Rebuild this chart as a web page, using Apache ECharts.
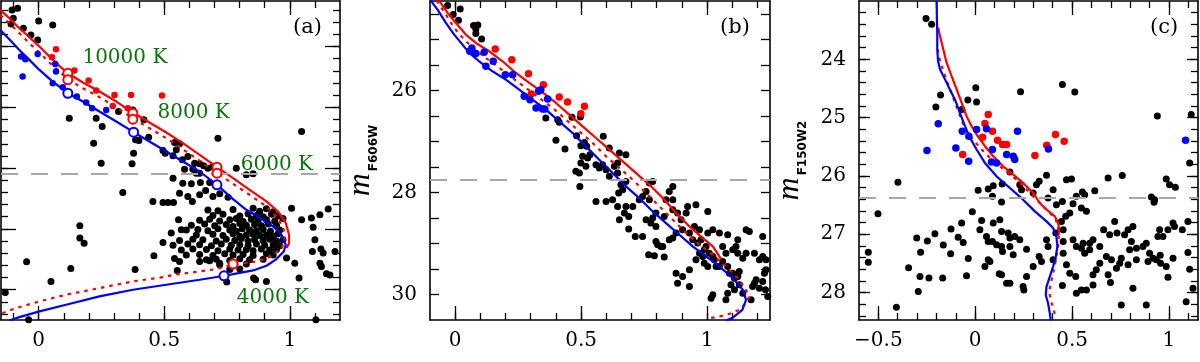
<!DOCTYPE html>
<html><head><meta charset="utf-8">
<script src="https://cdn.jsdelivr.net/npm/echarts@6/dist/echarts.min.js"></script>
<style>html,body{margin:0;padding:0;background:#fff}#c{width:1200px;height:362px}</style>
</head><body><div id="c"></div>
<script>
// ---------------- Panel (a) ----------------
const aXTicksMinor = [-0.1,0,0.1,0.2,0.3,0.4,0.5,0.6,0.7,0.8,0.9,1,1.1];
const aXTicksMajor = [0,0.5,1];
const aXLabels = [0,0.5,1];
const aYTicksMinor = [0.4,0.6,0.8,1,1.2,1.4,1.6,1.8,2,2.2,2.4,2.6,2.8,3,3.2,3.4,3.6,3.8,4,4.2,4.4,4.6,4.8,5,5.2,5.4];
const aYTicksMajor = [1,2,3,4,5];
const aYLabels = [];

const aRedSolid = [[-0.153,0.397],[-0.117,0.534],[-0.077,0.698],[-0.037,0.846],[0.003,1.000],[0.043,1.164],[0.082,1.318],[0.116,1.439],[0.176,1.592],[0.242,1.740],[0.309,1.905],[0.375,2.086],[0.441,2.250],[0.508,2.414],[0.574,2.590],[0.641,2.782],[0.710,2.985],[0.774,3.166],[0.840,3.357],[0.907,3.549],[0.953,3.714],[0.984,3.906],[0.997,4.098],[0.997,4.235],[0.987,4.317]];
const aRedDotted = [[-0.153,0.479],[-0.117,0.616],[-0.077,0.781],[-0.037,0.945],[0.003,1.099],[0.043,1.263],[0.082,1.411],[0.116,1.537],[0.176,1.685],[0.242,1.833],[0.309,1.998],[0.375,2.184],[0.441,2.343],[0.508,2.508],[0.574,2.689],[0.641,2.880],[0.710,3.083],[0.774,3.259],[0.840,3.440],[0.907,3.632],[0.953,3.823],[0.976,4.015],[0.980,4.180],[0.967,4.317],[0.927,4.454],[0.867,4.536],[0.820,4.564],[0.774,4.591],[0.707,4.662],[0.641,4.701],[0.541,4.755],[0.495,4.794],[0.375,4.865],[0.242,4.975],[0.109,5.084],[0.003,5.194],[-0.090,5.304],[-0.150,5.397]];
const aBlue = [[-0.153,0.726],[-0.117,0.879],[-0.077,1.055],[-0.037,1.219],[0.003,1.384],[0.056,1.576],[0.116,1.768],[0.176,1.905],[0.242,2.069],[0.309,2.234],[0.378,2.409],[0.441,2.563],[0.508,2.727],[0.574,2.891],[0.641,3.056],[0.710,3.275],[0.774,3.511],[0.827,3.686],[0.894,3.851],[0.934,3.961],[0.967,4.098],[0.984,4.262],[0.976,4.372],[0.947,4.498],[0.907,4.607],[0.854,4.684],[0.774,4.745],[0.741,4.772],[0.641,4.838],[0.508,4.920],[0.375,5.002],[0.242,5.112],[0.109,5.249],[0.003,5.359],[-0.077,5.452],[-0.117,5.507]];
const aRedCircles = [[0.116,1.439],[0.116,1.548],[0.375,2.096],[0.375,2.195],[0.710,2.985],[0.710,3.083],[0.774,4.580]];
const aBlueCircles = [[0.116,1.768],[0.378,2.409],[0.710,3.275],[0.738,4.772]];
const aTempLabels = ['10000 K','8000 K','6000 K','4000 K'];
const aTempPos = [[0.174,1.186],[0.473,2.09],[0.805,2.946],[0.789,5.133]];
const aRedPts = [[0.069,1.044],[0.053,1.175],[0.142,1.395],[0.199,1.559],[0.229,1.724],[0.302,1.795],[0.368,1.795],[0.491,1.806],[0.295,1.976],[0.355,2.014]];
const aBluePts = [[-0.070,1.164],[-0.053,1.208],[-0.004,1.121],[-0.064,1.493],[0.066,1.285],[0.069,1.411],[0.056,1.603],[0.096,1.669],[0.152,1.822],[0.189,1.921],[0.213,2.014],[0.269,2.042]];
const aBlackPts = [
[-0.106,0.397],[-0.084,0.370],[-0.101,0.534],[-0.110,0.627],[-0.061,0.698],[0.000,0.578],[0.056,0.644],[-0.031,0.808],[-0.004,0.890],
[0.122,2.179],[0.229,2.179],[0.253,2.316],[0.219,2.590],[0.249,2.919],[0.318,2.069],[0.375,2.042],[0.378,2.754],[0.372,2.930],[0.386,2.535],[0.399,2.546],[0.419,2.206],[0.438,2.491],
[0.495,2.711],[0.504,2.754],[0.535,2.798],[0.541,2.579],[0.561,2.601],[0.548,2.700],[0.572,2.864],[0.581,3.018],[0.621,2.919],[0.614,3.018],[0.594,2.809],[0.535,3.166],[0.714,2.508],[1.047,2.398],
[0.641,2.930],[0.657,2.963],[0.674,3.001],[0.628,3.083],[0.694,2.974],[0.641,3.083],
[0.787,3.001],[0.827,3.111],[0.854,3.094],
[0.574,3.248],[0.608,3.259],[0.644,3.237],[0.681,3.237],[0.335,3.401],
[0.455,3.549],[0.495,3.566],[0.515,3.566],[0.537,3.566],
[0.561,3.412],[0.594,3.467],[0.612,3.549],[0.641,3.440],[0.665,3.368],[0.694,3.467],[0.721,3.423],[0.754,3.478],
[0.164,3.950],[0.164,4.152],[0.181,4.235],[-0.048,4.542],[0.128,4.651],[0.384,4.668],[0.049,4.865],[-0.133,5.046],[-0.040,5.496],[1.104,5.496],
[0.459,4.443],[0.495,4.224],[0.528,4.070],[0.557,3.851],[0.568,4.015],[0.541,4.487],[0.561,4.536],[0.552,4.684],
[0.641,4.536],[0.681,4.525],[0.721,4.564],[0.749,4.876],[0.856,4.810],[0.864,4.838],[0.907,4.865],
[1.007,3.659],[1.047,3.851],[1.086,3.823],[1.120,3.769],[1.153,3.675],[1.093,3.972],
[1.100,4.180],[1.090,4.372],[1.124,4.333],[1.133,4.399],[1.120,4.564],[1.126,4.618],[1.146,4.739],[1.160,4.761],[1.180,4.372],
[0.987,4.481],[1.020,4.564],[1.037,4.810],
[0.674,3.69],[0.714,3.70],[0.774,3.68],[0.854,3.66],[0.880,3.71],[0.907,3.67],[0.934,3.72],
[0.694,3.78],[0.734,3.76],[0.801,3.79],[0.834,3.75],[0.867,3.78],[0.894,3.80],[0.927,3.76],[0.953,3.79],
[0.641,3.86],[0.681,3.84],[0.721,3.87],[0.761,3.85],[0.787,3.83],[0.814,3.88],[0.847,3.84],[0.874,3.86],[0.907,3.85],[0.940,3.87],[0.973,3.83],
[0.608,3.94],[0.661,3.92],[0.701,3.95],[0.747,3.93],[0.774,3.96],[0.801,3.91],[0.827,3.94],[0.860,3.93],[0.887,3.95],[0.914,3.92],[0.947,3.94],
[0.588,4.02],[0.634,4.01],[0.674,4.03],[0.714,4.00],[0.761,4.02],[0.787,4.04],[0.811,4.00],[0.840,4.02],[0.867,4.03],[0.894,4.01],[0.923,4.04],[0.960,4.02],
[0.628,4.10],[0.694,4.09],[0.734,4.11],[0.774,4.08],[0.801,4.12],[0.827,4.10],[0.854,4.09],[0.880,4.11],[0.907,4.10],[0.934,4.12],[0.953,4.08],
[0.561,4.19],[0.614,4.17],[0.654,4.18],[0.707,4.20],[0.747,4.17],[0.781,4.19],[0.807,4.16],[0.834,4.20],[0.860,4.18],[0.894,4.19],[0.920,4.17],[0.947,4.20],[0.973,4.18],
[0.535,4.27],[0.594,4.25],[0.641,4.26],[0.688,4.28],[0.727,4.25],[0.767,4.27],[0.801,4.26],[0.834,4.28],[0.867,4.25],[0.900,4.27],[0.934,4.26],[0.960,4.28],
[0.568,4.35],[0.614,4.33],[0.668,4.34],[0.714,4.36],[0.761,4.33],[0.794,4.35],[0.827,4.34],[0.854,4.36],[0.887,4.33],[0.920,4.35],[0.947,4.34],
[0.588,4.43],[0.641,4.42],[0.694,4.44],[0.741,4.41],[0.774,4.43],[0.814,4.42],[0.854,4.44],[0.907,4.41],[0.934,4.43],
[0.668,4.51],[0.707,4.50],[0.761,4.52],[0.801,4.49],[0.840,4.51],[0.894,4.50],
[0.721,4.59],[0.827,4.58],[0.761,4.67],[0.801,4.66]
];
const aDash = 3.094;

// ---------------- Panel (b) ----------------
const bXTicksMinor = [0,0.1,0.2,0.3,0.4,0.5,0.6,0.7,0.8,0.9,1,1.1,1.2];
const bXTicksMajor = [0,0.5,1];
const bXLabels = [0,0.5,1];
const bYTicksMinor = [24.5,25,25.5,26,26.5,27,27.5,28,28.5,29,29.5,30];
const bYTicksMajor = [];
const bYLabels = [26,28,30];

const bBlue = [[-0.097,24.242],[-0.070,24.418],[-0.037,24.680],[-0.004,24.908],[0.029,25.105],[0.056,25.268],[0.095,25.431],[0.148,25.627],[0.201,25.791],[0.254,25.987],[0.307,26.183],[0.360,26.379],[0.413,26.608],[0.466,26.837],[0.519,27.098],[0.572,27.359],[0.625,27.621],[0.678,27.882],[0.731,28.111],[0.784,28.373],[0.837,28.601],[0.890,28.830],[0.943,29.059],[0.996,29.255],[1.049,29.451],[1.102,29.680],[1.142,29.908],[1.155,30.105],[1.140,30.301],[1.101,30.458],[1.075,30.510]];
const bRedSolid = [[-0.064,24.242],[-0.030,24.484],[0.003,24.680],[0.042,24.908],[0.082,25.072],[0.135,25.235],[0.188,25.431],[0.241,25.660],[0.294,25.856],[0.347,26.039],[0.400,26.248],[0.453,26.477],[0.506,26.706],[0.559,26.935],[0.612,27.163],[0.665,27.392],[0.718,27.621],[0.771,27.850],[0.824,28.111],[0.877,28.405],[0.930,28.667],[0.983,28.895],[1.023,29.059],[1.056,29.307]];
const bRedDotted = [[-0.074,24.242],[-0.037,24.516],[-0.004,24.778],[0.036,25.007],[0.075,25.190],[0.122,25.366],[0.175,25.562],[0.228,25.758],[0.281,25.954],[0.334,26.150],[0.387,26.346],[0.440,26.575],[0.493,26.804],[0.546,27.033],[0.599,27.294],[0.652,27.523],[0.705,27.752],[0.758,28.013],[0.811,28.275],[0.864,28.536],[0.917,28.797],[0.970,29.026],[1.023,29.222],[1.075,29.451],[1.128,29.712],[1.162,29.974],[1.168,30.039],[1.148,30.203],[1.128,30.301],[1.089,30.379],[1.049,30.431],[0.996,30.477]];
const bRedPts = [[0.159,25.190],[0.225,25.399],[0.291,25.673],[0.350,25.889],[0.413,26.131],[0.446,26.229],[0.513,26.314],[0.499,26.458],[0.302,26.072]];
const bBluePts = [[0.066,25.170],[0.058,25.235],[0.082,25.281],[0.115,25.255],[0.122,25.529],[0.151,25.431],[0.199,25.693],[0.228,25.693],[0.274,26.118],[0.297,26.183],[0.331,26.020],[0.340,25.987],[0.367,26.170],[0.321,26.346],[0.347,26.366],[0.356,26.366]];
const bBlackPts = [
[-0.030,24.340],[0.020,24.405],[-0.008,24.516],[0.013,24.627],[0.073,24.732],[0.082,24.797],[0.090,24.719],[0.082,24.889],[0.105,24.993],
[0.360,26.542],[0.407,26.575],[0.413,26.627],[0.464,26.529],[0.497,26.523],
[0.400,26.980],[0.436,27.150],[0.482,26.889],[0.499,27.085],[0.513,27.020],[0.522,27.098],[0.506,27.294],[0.526,27.327],[0.535,27.261],[0.499,27.425],[0.519,27.490],[0.479,27.588],[0.493,27.621],[0.495,27.882],
[0.588,26.902],[0.612,27.131],[0.652,27.229],[0.678,27.261],[0.645,27.425],[0.632,27.490],[0.645,27.621],[0.612,27.686],[0.599,27.556],[0.572,27.523],[0.585,27.458],[0.559,27.458],
[0.658,27.850],[0.678,27.784],[0.665,27.948],[0.649,28.013],[0.625,28.144],[0.599,28.176],[0.559,28.176],[0.645,28.275],[0.678,28.275],[0.705,28.275],[0.689,28.471],[0.672,28.405],[0.652,28.536],[0.689,28.719],[0.715,28.863],[0.744,28.863],
[0.771,27.817],[0.784,27.784],[0.758,27.980],[0.744,28.078],[0.731,28.144],[0.771,28.144],[0.797,28.405],[0.784,28.503],[0.758,28.536],[0.777,28.601],[0.797,28.667],[0.830,28.471],[0.864,27.882],[0.850,27.980],[0.837,28.144],[0.864,28.144],[0.864,28.340],[0.883,28.405],[0.897,28.536],[0.917,28.405],[0.923,28.275],[0.956,28.242],[1.003,28.373],
[0.768,29.222],[0.791,29.242],[0.830,29.268],[0.804,29.026],[0.817,29.059],[0.797,28.961],[0.824,29.059],[0.850,28.928],[0.864,28.895],[0.877,28.797],[0.903,28.732],[0.930,28.797],[0.950,28.667],[0.970,28.732],[0.943,28.928],[0.963,28.993],[0.976,28.928],[1.003,28.797],[1.023,28.732],[1.049,28.797],[1.082,28.830],[1.122,28.928],[1.155,28.732],[1.168,28.765],[1.221,28.863],
[0.877,29.582],[0.883,29.778],[0.903,29.647],[0.930,29.843],[0.930,29.516],[0.956,29.320],[0.970,29.190],[0.983,29.255],[0.989,29.124],[0.996,29.059],[1.009,29.190],[1.023,29.255],[1.029,29.320],[0.989,29.386],[1.003,29.451],[1.036,29.451],[1.049,29.451],[1.062,29.353],[1.082,29.451],[1.089,29.582],[1.102,29.582],[1.109,29.680],[1.122,29.647],[1.128,29.549],[1.075,29.190],[1.062,29.059],[1.102,29.124],[1.115,29.059],[1.122,29.190],[1.142,29.288],[1.155,29.190],[1.188,29.190],[1.221,29.255],[1.234,29.320],[1.208,29.320],
[1.023,30.007],[1.016,30.072],[1.082,29.974],[1.075,30.105],[1.095,29.810],[1.109,29.908],[1.128,29.810],[1.142,29.974],[1.175,30.105],[1.181,29.843],[1.188,29.778],[1.195,29.712],[1.208,29.876],[1.221,29.745],[1.228,29.582],[1.234,29.516],[1.232,29.908],[1.241,30.039]
];
const bDash = 27.75;

// ---------------- Panel (c) ----------------
const cXTicksMinor = [-0.5,-0.4,-0.3,-0.2,-0.1,0,0.1,0.2,0.3,0.4,0.5,0.6,0.7,0.8,0.9,1,1.1];
const cXTicksMajor = [-0.5,0,0.5,1];
const cXLabels = [-0.5,0,0.5,1];
const cYTicksMinor = [23.2,23.4,23.6,23.8,24,24.2,24.4,24.6,24.8,25,25.2,25.4,25.6,25.8,26,26.2,26.4,26.6,26.8,27,27.2,27.4,27.6,27.8,28,28.2,28.4];
const cYTicksMajor = [24,25,26,27,28];
const cYLabels = [24,25,26,27,28];

const cBlue = [[-0.199,23.0],[-0.198,23.312],[-0.196,23.542],[-0.196,23.828],[-0.192,24.029],[-0.182,24.172],[-0.156,24.344],[-0.131,24.516],[-0.105,24.688],[-0.079,24.917],[-0.053,25.146],[-0.027,25.347],[0.007,25.547],[0.050,25.777],[0.110,26.006],[0.179,26.206],[0.247,26.407],[0.308,26.607],[0.368,26.779],[0.402,26.894],[0.419,27.037],[0.424,27.209],[0.416,27.381],[0.402,27.553],[0.385,27.725],[0.368,27.897],[0.364,28.040],[0.376,28.183],[0.385,28.355],[0.390,28.481]];
const cRedSolid = [[-0.191,23.456],[-0.182,23.599],[-0.165,23.828],[-0.148,24.057],[-0.122,24.287],[-0.096,24.516],[-0.070,24.745],[-0.045,24.974],[-0.019,25.146],[0.007,25.289],[0.050,25.490],[0.093,25.662],[0.144,25.834],[0.196,25.977],[0.247,26.120],[0.299,26.292],[0.333,26.464],[0.368,26.579],[0.411,26.693],[0.428,26.808],[0.433,26.923],[0.430,27.009]];
const cRedDotted = [[-0.194,23.828],[-0.186,23.971],[-0.168,24.172],[-0.143,24.401],[-0.117,24.630],[-0.091,24.860],[-0.065,25.089],[-0.040,25.261],[-0.005,25.404],[0.033,25.547],[0.076,25.691],[0.127,25.834],[0.170,25.948],[0.222,26.092],[0.265,26.235],[0.308,26.378],[0.342,26.493],[0.376,26.607],[0.416,26.739],[0.433,26.98],[0.428,27.21],[0.416,27.44],[0.402,27.67],[0.390,27.84],[0.381,27.983],[0.388,28.097],[0.399,28.241],[0.411,28.367]];
const cRedPts = [[0.067,24.946],[0.050,25.100],[0.089,25.232],[0.038,25.335],[0.115,25.387],[0.141,25.461],[0.162,25.461],[-0.065,25.633],[0.308,25.650],[0.414,25.289],[0.369,25.473],[0.459,25.404]];
const cBluePts = [[-0.191,25.106],[-0.249,25.564],[-0.067,25.232],[-0.033,25.318],[0.007,25.203],[0.058,25.192],[-0.100,25.519],[-0.034,25.748],[0.089,25.547],[0.084,25.759],[0.110,25.777],[0.162,25.633],[0.196,25.662],[0.204,25.719],[0.218,25.232],[0.378,25.536],[1.086,25.387]];
const cBlackPts = [
[-0.254,23.301],[-0.225,23.398],[0.003,24.487],[-0.038,24.699],[0.007,24.734],[-0.179,24.613],[-0.203,24.819],[-0.069,24.860],[0.234,24.556],[0.450,24.430],[0.514,24.562],[0.940,24.974],[1.115,24.946],[1.107,25.777],
[-0.399,26.109],[-0.502,26.648],[-0.552,27.307],[-0.552,27.479],[-0.344,27.576],[-0.302,27.066],[-0.282,27.307],[-0.247,27.117],[-0.208,26.991],[-0.165,27.186],[-0.125,26.911],[-0.127,27.335],[-0.088,27.049],[-0.062,27.140],[-0.070,26.808],[-0.036,27.415],[-0.285,27.725],[-0.239,27.748],[-0.168,27.748],[-0.294,27.983],[-0.407,28.252],[-0.045,27.713],
[-0.015,26.613],[0.024,26.923],[0.033,26.762],[0.067,27.123],[0.058,27.037],[0.089,27.123],[0.110,27.181],[0.136,27.209],[0.141,27.295],[0.067,27.438],[0.050,27.553],[0.076,27.467],[0.093,26.808],[0.127,26.751],[0.136,26.951],[0.170,26.980],[0.179,27.066],[0.204,27.037],[0.230,27.095],[0.179,27.209],[0.196,27.352],[0.265,27.255],[0.124,27.679],[0.136,27.696],[0.162,27.840],[0.179,27.840],[0.247,27.897],[0.265,27.725],[0.251,27.954],[0.299,27.553],[0.330,27.381],[0.342,27.467],[0.368,27.095],[0.376,27.209],[0.402,27.438],[0.416,26.980],[0.454,27.123],[0.454,27.324],[0.471,27.524],[0.450,27.880],[0.454,26.923],
[0.015,26.246],[0.067,26.223],[0.089,26.350],[0.093,26.166],[0.139,26.138],[0.136,26.447],[0.179,25.931],[0.230,26.149],[0.239,26.235],[0.299,26.292],[0.316,26.149],[0.330,26.092],[0.368,25.989],[0.376,26.378],[0.402,26.235],[0.419,26.493],[0.450,26.436],[0.467,26.693],[0.488,26.636],[0.445,26.779],[0.505,26.476],[0.522,26.350],[0.565,26.321],[0.617,26.252],[0.686,26.034],[0.759,25.994],[0.986,26.052],[1.003,26.149],[1.033,26.195],[0.909,26.361],[0.926,26.407],[0.923,26.453],[0.548,26.550],[0.574,26.607],[0.553,26.275],[0.471,26.063],[0.497,26.052],
[0.505,27.095],[0.522,27.209],[0.557,27.152],[0.591,27.152],[0.608,27.095],[0.643,27.209],[0.663,26.923],[0.694,27.009],[0.720,26.779],[0.732,26.980],[0.771,27.009],[0.789,26.923],[0.814,26.865],[0.806,27.123],[0.797,27.266],[0.832,27.238],[0.866,27.209],[0.883,27.152],[0.900,27.324],[0.918,27.410],[0.935,27.438],[0.943,27.037],[0.952,26.923],[0.969,27.037],[0.995,26.923],[1.021,26.808],[1.029,26.865],[1.069,26.923],[1.098,26.779],[1.098,27.312],[1.107,27.599],[1.124,27.926],[1.089,28.155],[0.754,28.212],[0.883,28.212],
[0.488,27.668],[0.519,27.725],[0.522,28.011],[0.548,27.954],[0.574,27.954],[0.608,27.696],[0.625,27.610],[0.643,27.496],[0.677,27.381],[0.703,27.438],[0.729,27.582],[0.746,27.496],[0.754,27.410],[0.789,27.524],[0.832,27.438],[0.892,27.467],[0.955,27.358],[0.957,27.496],[0.986,27.553],[1.021,27.410],[0.995,27.736],[0.814,27.926],[0.698,27.828],[0.686,27.696],[0.608,27.868],[0.548,27.238],[0.565,27.324],[0.591,27.266]
];
const cDash = 26.38;

// ---------------- build ----------------
const SERIF = 'DejaVu Serif';
const RED = '#ff0000', BLUE = '#0000ff';
const fmt = v => (v < 0 ? '\u2212' + (-v) : String(v));

const panels = [
  {grid:{left:1, top:1, width:339, height:319},
   x:{min:-0.15, max:1.2, minor:aXTicksMinor, major:aXTicksMajor, labels:aXLabels, minLen:7, majLen:14},
   y:{min:0.25, max:5.5, minor:aYTicksMinor, major:aYTicksMajor, labels:aYLabels, minLen:7, majLen:15, name:null}},
  {grid:{left:430, top:1, width:340, height:319},
   x:{min:-0.1, max:1.25, minor:bXTicksMinor, major:bXTicksMajor, labels:bXLabels, minLen:7, majLen:14},
   y:{min:24.25, max:30.5, minor:bYTicksMinor, major:bYTicksMajor, labels:bYLabels, minLen:9, majLen:9, name:'{m|m}{s|F606W}'}},
  {grid:{left:859, top:1, width:339, height:319},
   x:{min:-0.6, max:1.15, minor:cXTicksMinor, major:cXTicksMajor, labels:cXLabels, minLen:7, majLen:14},
   y:{min:23, max:28.47, minor:cYTicksMinor, major:cYTicksMajor, labels:cYLabels, minLen:7, majLen:11, name:'{m|m}{s|F150W2}'}}
];

const grids = [], xAxes = [], yAxes = [];
function mkAxes(list, dim, gi, c) {
  const pos = dim === 'x' ? ['bottom', 'top'] : ['left', 'right'];
  pos.forEach((p, k) => {
    const main = {
      type:'value', gridIndex:gi, position:p, min:c.min, max:c.max, inverse: dim === 'y',
      axisLine:{show:true, onZero:false, lineStyle:{color:'#000', width:1.6}},
      axisTick:{show:true, inside:true, length:c.minLen, customValues:c.minor, lineStyle:{color:'#000', width:1.3}},
      axisLabel:{show: k === 0 && c.labels.length > 0, customValues:c.labels, formatter:fmt,
                 margin: dim === 'x' ? 11 : 13, color:'#000', fontFamily:SERIF, fontSize:20},
      splitLine:{show:false}
    };
    if (dim === 'y' && k === 0 && c.name) {
      Object.assign(main, {
        name:c.name, nameLocation:'middle', nameRotate:90, nameGap:50,
        nameTextStyle:{rich:{
          m:{fontFamily:'Liberation Serif', fontStyle:'italic', fontSize:32, color:'#000', padding:[0,0,3,0]},
          s:{fontFamily:'DejaVu Sans', fontWeight:'bold', fontSize:12, color:'#000', verticalAlign:'bottom', padding:[0,0,0,2]}
        }}
      });
    }
    list.push(main);
    list.push({
      type:'value', gridIndex:gi, position:p, min:c.min, max:c.max, inverse: dim === 'y',
      axisLine:{show:false, onZero:false},
      axisTick:{show: c.major.length > 0, inside:true, length:c.majLen, customValues:c.major.length ? c.major : [c.min], lineStyle:{color:'#000', width:1.3}},
      axisLabel:{show:false}, splitLine:{show:false}
    });
  });
}
panels.forEach((P, i) => {
  grids.push(Object.assign({containLabel:false, outerBoundsMode:'none'}, P.grid));
  mkAxes(xAxes, 'x', i, P.x);
  mkAxes(yAxes, 'y', i, P.y);
});

const series = [];
function ax(i) { return {xAxisIndex:4*i, yAxisIndex:4*i}; }
function dots(i, data, color, size, z) {
  series.push(Object.assign({type:'scatter', data, symbol:'circle', symbolSize:size, silent:true,
    itemStyle:{color, opacity:1}, z}, ax(i)));
}
function curve(i, data, color, dashed) {
  series.push(Object.assign({type:'line', data, showSymbol:false, symbol:'none', silent:true, smooth:false,
    lineStyle:{color, width:2.2, opacity:1, type: dashed ? [3.5,5] : 'solid'}, z:3}, ax(i)));
}
const dashLevels = [aDash, bDash, cDash];
[aBlackPts, bBlackPts, cBlackPts].forEach((d, i) => {
  series.push(Object.assign({type:'scatter', data:d, symbol:'circle', symbolSize:7, silent:true,
    itemStyle:{color:'#000', opacity:1}, z:2,
    markLine:{silent:true, symbol:'none', label:{show:false}, animation:false,
      lineStyle:{color:'#a8a8a8', width:2, opacity:1, type:[17,13]}, data:[{yAxis:dashLevels[i]}]}}, ax(i)));
});
[[aRedSolid, aRedDotted, aBlue],[bRedSolid, bRedDotted, bBlue],[cRedSolid, cRedDotted, cBlue]].forEach((s, i) => {
  curve(i, s[1], RED, true);
  curve(i, s[0], RED, false);
  curve(i, s[2], BLUE, false);
});
dots(0, aRedPts, RED, 6.5, 4); dots(0, aBluePts, BLUE, 6.5, 4);
dots(1, bRedPts, RED, 7.5, 4); dots(1, bBluePts, BLUE, 7.5, 4);
dots(2, cRedPts, RED, 7.5, 4); dots(2, cBluePts, BLUE, 7.5, 4);
series.push(Object.assign({type:'scatter', data:aRedCircles, symbol:'circle', symbolSize:9, silent:true,
  itemStyle:{color:'#fff', borderColor:RED, borderWidth:2, opacity:1}, z:5}, ax(0)));
series.push(Object.assign({type:'scatter', data:aBlueCircles, symbol:'circle', symbolSize:9, silent:true,
  itemStyle:{color:'#fff', borderColor:BLUE, borderWidth:2, opacity:1}, z:5}, ax(0)));
series.push(Object.assign({type:'scatter', silent:true, symbolSize:0.1, itemStyle:{color:'rgba(0,0,0,0)'}, z:6,
  data: aTempPos.map((p, k) => [p[0], p[1], aTempLabels[k]]),
  label:{show:true, position:'right', distance:0, formatter:p => p.data[2], color:'#0a730a', opacity:1,
    fontFamily:SERIF, fontSize:20}}, ax(0)));

const tags = ['(a)','(b)','(c)'];
const tagLeft = [293, 720, 1150];
const titles = tags.map((t, i) => ({text:t, left:tagLeft[i], top:17, padding:0,
  textStyle:{fontFamily:SERIF, fontWeight:'normal', fontSize:21, color:'#000'}}));

const chart = echarts.init(document.getElementById('c'), null, {renderer:'canvas'});
chart.setOption({animation:false, backgroundColor:'#fff', title:titles, grid:grids, xAxis:xAxes, yAxis:yAxes, series});
</script></body></html>
